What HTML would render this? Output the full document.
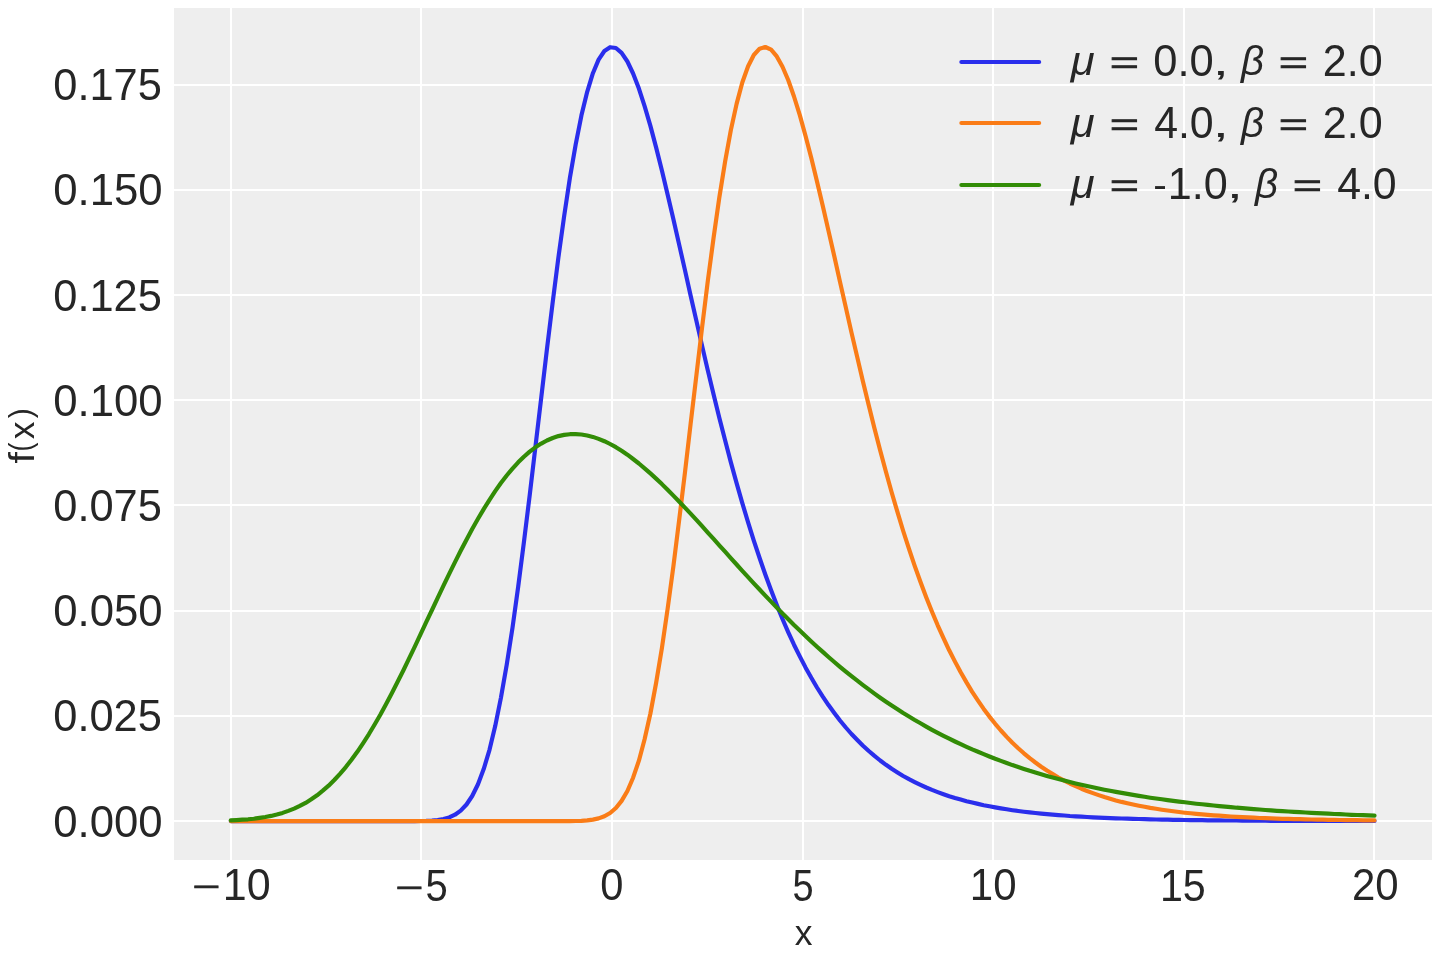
<!DOCTYPE html>
<html lang="en">
<head>
<meta charset="utf-8">
<title>Gumbel distribution pdf</title>
<style>
html,body{margin:0;padding:0;background:#ffffff;}
body{width:1440px;height:960px;overflow:hidden;font-family:"Liberation Sans",sans-serif;}
svg{display:block;font-family:"Liberation Sans",sans-serif;will-change:transform;}
.grid rect{fill:#ffffff;}
.curve{fill:none;stroke-width:4.17;stroke-linecap:round;stroke-linejoin:round;}
.lbl text{fill:#262626;}
</style>
</head>
<body>
<svg width="1440" height="960" viewBox="0 0 1440 960">
<rect x="0" y="0" width="1440" height="960" fill="#ffffff"/>
<rect x="174" y="8" width="1258" height="852" fill="#eeeeee"/>
<g class="grid">
<rect x="230" y="8" width="2" height="852"/>
<rect x="420" y="8" width="2" height="852"/>
<rect x="611" y="8" width="2" height="852"/>
<rect x="802" y="8" width="2" height="852"/>
<rect x="992" y="8" width="2" height="852"/>
<rect x="1183" y="8" width="2" height="852"/>
<rect x="1373" y="8" width="2" height="852"/>
<rect x="174" y="84" width="1258" height="2"/>
<rect x="174" y="189" width="1258" height="2"/>
<rect x="174" y="294" width="1258" height="2"/>
<rect x="174" y="399" width="1258" height="2"/>
<rect x="174" y="504" width="1258" height="2"/>
<rect x="174" y="610" width="1258" height="2"/>
<rect x="174" y="715" width="1258" height="2"/>
<rect x="174" y="820" width="1258" height="2"/>
</g>
<g class="curves">
<polyline class="curve" stroke="#2a2eec" points="230.8,821.1 236.6,821.1 242.3,821.1 248.1,821.1 253.8,821.1 259.6,821.1 265.3,821.1 271.1,821.1 276.8,821.1 282.6,821.1 288.3,821.1 294.1,821.1 299.8,821.1 305.6,821.1 311.3,821.1 317.1,821.1 322.8,821.1 328.6,821.1 334.3,821.1 340,821.1 345.8,821.1 351.5,821.1 357.3,821.1 363,821.1 368.8,821.1 374.5,821.1 380.3,821.1 386,821.1 391.8,821.1 397.5,821.1 403.3,821.1 409,821.1 414.8,821.1 420.5,821 426.2,820.9 432,820.6 437.7,820 443.5,819 449.2,817.4 455,814.7 460.7,810.6 466.5,804.5 472.2,796 478,784.3 483.7,769.1 489.5,749.8 495.2,726.1 500.9,697.8 506.7,664.9 512.5,627.7 518.2,586.6 523.9,542.2 529.7,495.3 535.4,446.9 541.2,398 546.9,349.4 552.7,302.3 558.4,257.5 564.2,215.8 569.9,177.9 575.7,144.4 581.4,115.6 587.2,91.8 592.9,73.2 598.6,59.6 604.4,51 610.1,47.2 615.9,48 621.6,52.8 627.4,61.5 633.1,73.5 638.9,88.6 644.6,106.2 650.4,125.9 656.1,147.4 661.9,170.4 667.6,194.4 673.4,219.2 679.1,244.4 684.9,269.9 690.6,295.5 696.4,320.9 702.1,345.9 707.8,370.4 713.6,394.4 719.3,417.8 725.1,440.3 730.8,462.1 736.6,483.1 742.3,503.1 748.1,522.3 753.8,540.6 759.6,558 765.3,574.5 771.1,590.2 776.8,605 782.5,619 788.3,632.3 794,644.7 799.8,656.4 805.5,667.4 811.3,677.8 817,687.5 822.8,696.6 828.5,705.1 834.3,713 840,720.5 845.8,727.5 851.5,734 857.3,740 863,745.7 868.8,751 874.5,755.9 880.2,760.5 886,764.8 891.7,768.8 897.5,772.5 903.2,776 909,779.2 914.7,782.1 920.5,784.9 926.2,787.5 932,789.9 937.7,792.1 943.5,794.2 949.2,796.2 955,798 960.7,799.6 966.5,801.2 972.2,802.6 978,803.9 983.7,805.2 989.4,806.3 995.2,807.4 1000.9,808.4 1006.7,809.3 1012.4,810.2 1018.2,811 1023.9,811.7 1029.7,812.4 1035.4,813 1041.2,813.6 1046.9,814.1 1052.7,814.6 1058.4,815.1 1064.2,815.5 1069.9,816 1075.6,816.3 1081.4,816.7 1087.1,817 1092.9,817.3 1098.6,817.6 1104.4,817.8 1110.1,818.1 1115.9,818.3 1121.6,818.5 1127.4,818.7 1133.1,818.9 1138.9,819 1144.6,819.2 1150.3,819.3 1156.1,819.5 1161.8,819.6 1167.6,819.7 1173.3,819.8 1179.1,819.9 1184.8,820 1190.6,820.1 1196.3,820.1 1202.1,820.2 1207.8,820.3 1213.6,820.3 1219.3,820.4 1225.1,820.5 1230.8,820.5 1236.6,820.5 1242.3,820.6 1248,820.6 1253.8,820.7 1259.5,820.7 1265.3,820.7 1271,820.8 1276.8,820.8 1282.5,820.8 1288.3,820.8 1294,820.9 1299.8,820.9 1305.5,820.9 1311.3,820.9 1317,820.9 1322.8,820.9 1328.5,821 1334.3,821 1340,821 1345.8,821 1351.5,821 1357.2,821 1363,821 1368.7,821 1374.5,821"/>
<polyline class="curve" stroke="#fa7c17" points="230.8,821.1 236.6,821.1 242.3,821.1 248.1,821.1 253.8,821.1 259.6,821.1 265.3,821.1 271.1,821.1 276.8,821.1 282.6,821.1 288.3,821.1 294.1,821.1 299.8,821.1 305.6,821.1 311.3,821.1 317.1,821.1 322.8,821.1 328.6,821.1 334.3,821.1 340,821.1 345.8,821.1 351.5,821.1 357.3,821.1 363,821.1 368.8,821.1 374.5,821.1 380.3,821.1 386,821.1 391.8,821.1 397.5,821.1 403.3,821.1 409,821.1 414.8,821.1 420.5,821.1 426.2,821.1 432,821.1 437.7,821.1 443.5,821.1 449.2,821.1 455,821.1 460.7,821.1 466.5,821.1 472.2,821.1 478,821.1 483.7,821.1 489.5,821.1 495.2,821.1 500.9,821.1 506.7,821.1 512.5,821.1 518.2,821.1 523.9,821.1 529.7,821.1 535.4,821.1 541.2,821.1 546.9,821.1 552.7,821.1 558.4,821.1 564.2,821.1 569.9,821.1 575.7,821 581.4,820.8 587.2,820.4 592.9,819.6 598.6,818.4 604.4,816.3 610.1,813 615.9,808 621.6,800.9 627.4,791 633.1,777.7 638.9,760.7 644.6,739.3 650.4,713.5 656.1,683 661.9,648.1 667.6,609 673.4,566.2 679.1,520.6 684.9,472.9 690.6,424.1 696.4,375.2 702.1,327.2 707.8,281.1 713.6,237.6 719.3,197.6 725.1,161.7 730.8,130.4 736.6,103.9 742.3,82.5 748.1,66.2 753.8,55 759.6,48.7 765.3,47 771.1,49.7 776.8,56.4 782.5,66.7 788.3,80.2 794,96.5 799.8,115.1 805.5,135.8 811.3,158 817,181.5 822.8,205.9 828.5,230.9 834.3,256.3 840,281.9 845.8,307.4 851.5,332.6 857.3,357.4 863,381.7 868.8,405.4 874.5,428.4 880.2,450.6 886,472 891.7,492.5 897.5,512.2 903.2,531 909,548.8 914.7,565.8 920.5,582 926.2,597.2 932,611.7 937.7,625.3 943.5,638.2 949.2,650.3 955,661.6 960.7,672.3 966.5,682.4 972.2,691.8 978,700.6 983.7,708.9 989.4,716.6 995.2,723.8 1000.9,730.5 1006.7,736.9 1012.4,742.7 1018.2,748.2 1023.9,753.3 1029.7,758.1 1035.4,762.5 1041.2,766.7 1046.9,770.5 1052.7,774.1 1058.4,777.5 1064.2,780.6 1069.9,783.5 1075.6,786.2 1081.4,788.7 1087.1,791 1092.9,793.1 1098.6,795.1 1104.4,797 1110.1,798.7 1115.9,800.4 1121.6,801.9 1127.4,803.2 1133.1,804.5 1138.9,805.7 1144.6,806.8 1150.3,807.9 1156.1,808.8 1161.8,809.7 1167.6,810.5 1173.3,811.3 1179.1,812 1184.8,812.7 1190.6,813.3 1196.3,813.9 1202.1,814.4 1207.8,814.9 1213.6,815.3 1219.3,815.7 1225.1,816.1 1230.8,816.5 1236.6,816.8 1242.3,817.1 1248,817.4 1253.8,817.7 1259.5,818 1265.3,818.2 1271,818.4 1276.8,818.6 1282.5,818.8 1288.3,818.9 1294,819.1 1299.8,819.2 1305.5,819.4 1311.3,819.5 1317,819.6 1322.8,819.7 1328.5,819.8 1334.3,819.9 1340,820 1345.8,820.1 1351.5,820.2 1357.2,820.2 1363,820.3 1368.7,820.4 1374.5,820.4"/>
<polyline class="curve" stroke="#328c06" points="230.8,820.4 236.6,820.1 242.3,819.7 248.1,819.3 253.8,818.7 259.6,817.9 265.3,817 271.1,815.9 276.8,814.5 282.6,812.9 288.3,810.9 294.1,808.6 299.8,805.9 305.6,802.9 311.3,799.3 317.1,795.3 322.8,790.7 328.6,785.7 334.3,780 340,773.8 345.8,767.1 351.5,759.7 357.3,751.8 363,743.3 368.8,734.3 374.5,724.7 380.3,714.7 386,704.2 391.8,693.3 397.5,682 403.3,670.5 409,658.6 414.8,646.6 420.5,634.4 426.2,622.2 432,610 437.7,597.8 443.5,585.7 449.2,573.8 455,562.1 460.7,550.7 466.5,539.7 472.2,529 478,518.8 483.7,509.1 489.5,499.8 495.2,491.1 500.9,483 506.7,475.5 512.5,468.6 518.2,462.3 523.9,456.7 529.7,451.6 535.4,447.3 541.2,443.6 546.9,440.5 552.7,438 558.4,436.1 564.2,434.9 569.9,434.2 575.7,434.1 581.4,434.5 587.2,435.5 592.9,436.9 598.6,438.9 604.4,441.2 610.1,444 615.9,447.2 621.6,450.8 627.4,454.7 633.1,459 638.9,463.5 644.6,468.3 650.4,473.4 656.1,478.6 661.9,484.1 667.6,489.8 673.4,495.6 679.1,501.5 684.9,507.6 690.6,513.7 696.4,519.9 702.1,526.2 707.8,532.6 713.6,538.9 719.3,545.3 725.1,551.7 730.8,558.1 736.6,564.5 742.3,570.8 748.1,577.1 753.8,583.3 759.6,589.5 765.3,595.6 771.1,601.6 776.8,607.6 782.5,613.5 788.3,619.3 794,625 799.8,630.5 805.5,636 811.3,641.5 817,646.7 822.8,651.9 828.5,657 834.3,662 840,666.8 845.8,671.6 851.5,676.2 857.3,680.7 863,685.1 868.8,689.4 874.5,693.6 880.2,697.7 886,701.7 891.7,705.5 897.5,709.3 903.2,713 909,716.5 914.7,720 920.5,723.3 926.2,726.6 932,729.8 937.7,732.8 943.5,735.8 949.2,738.7 955,741.5 960.7,744.2 966.5,746.8 972.2,749.4 978,751.8 983.7,754.2 989.4,756.5 995.2,758.8 1000.9,760.9 1006.7,763 1012.4,765.1 1018.2,767 1023.9,768.9 1029.7,770.8 1035.4,772.5 1041.2,774.2 1046.9,775.9 1052.7,777.5 1058.4,779 1064.2,780.5 1069.9,782 1075.6,783.4 1081.4,784.7 1087.1,786 1092.9,787.3 1098.6,788.5 1104.4,789.7 1110.1,790.8 1115.9,791.9 1121.6,792.9 1127.4,793.9 1133.1,794.9 1138.9,795.9 1144.6,796.8 1150.3,797.7 1156.1,798.5 1161.8,799.3 1167.6,800.1 1173.3,800.9 1179.1,801.6 1184.8,802.3 1190.6,803 1196.3,803.7 1202.1,804.3 1207.8,804.9 1213.6,805.5 1219.3,806.1 1225.1,806.6 1230.8,807.1 1236.6,807.7 1242.3,808.1 1248,808.6 1253.8,809.1 1259.5,809.5 1265.3,810 1271,810.4 1276.8,810.8 1282.5,811.1 1288.3,811.5 1294,811.9 1299.8,812.2 1305.5,812.5 1311.3,812.8 1317,813.1 1322.8,813.4 1328.5,813.7 1334.3,814 1340,814.2 1345.8,814.5 1351.5,814.8 1357.2,815 1363,815.2 1368.7,815.4 1374.5,815.6"/>
</g>
<g class="legend-handles">
<line class="curve" stroke="#2a2eec" x1="961.36" y1="62" x2="1039.14" y2="62"/>
<line class="curve" stroke="#fa7c17" x1="961.36" y1="123" x2="1039.14" y2="123"/>
<line class="curve" stroke="#328c06" x1="961.36" y1="185" x2="1039.14" y2="185"/>
</g>
<g class="lbl yticks">
<text font-size="43.66"><tspan x="53.26" y="99.56" textLength="108.58" lengthAdjust="spacingAndGlyphs">0.175</tspan></text>
<text font-size="43.66"><tspan x="53.25" y="204.56" textLength="109.39" lengthAdjust="spacingAndGlyphs">0.150</tspan></text>
<text font-size="43.66"><tspan x="53.26" y="310.56" textLength="108.58" lengthAdjust="spacingAndGlyphs">0.125</tspan></text>
<text font-size="43.66"><tspan x="53.25" y="415.56" textLength="109.39" lengthAdjust="spacingAndGlyphs">0.100</tspan></text>
<text font-size="43.66"><tspan x="53.26" y="520.56" textLength="108.58" lengthAdjust="spacingAndGlyphs">0.075</tspan></text>
<text font-size="43.66"><tspan x="53.25" y="625.56" textLength="109.39" lengthAdjust="spacingAndGlyphs">0.050</tspan></text>
<text font-size="43.66"><tspan x="53.26" y="730.56" textLength="108.58" lengthAdjust="spacingAndGlyphs">0.025</tspan></text>
<text font-size="43.66"><tspan x="53.25" y="836.56" textLength="109.39" lengthAdjust="spacingAndGlyphs">0.000</tspan></text>
</g>
<g class="lbl xticks">
<text font-size="43.66"><tspan x="192.81" stroke="#262626" stroke-width="0.7" y="896.7" font-size="30.67" textLength="27.94" lengthAdjust="spacingAndGlyphs">−</tspan><tspan x="222.78" y="899.56" textLength="47.83" lengthAdjust="spacingAndGlyphs">10</tspan></text>
<text font-size="43.5"><tspan x="395.81" stroke="#262626" stroke-width="0.7" y="897.7" font-size="30.67" textLength="27.94" lengthAdjust="spacingAndGlyphs">−</tspan><tspan x="425.4" y="900.57" textLength="22.25" lengthAdjust="spacingAndGlyphs">5</tspan></text>
<text font-size="43.66"><tspan x="600.33" y="899.56" textLength="23.17" lengthAdjust="spacingAndGlyphs">0</tspan></text>
<text font-size="43.5"><tspan x="792.48" y="900.57" textLength="21.08" lengthAdjust="spacingAndGlyphs">5</tspan></text>
<text font-size="43.66"><tspan x="969.85" y="899.56" textLength="46.72" lengthAdjust="spacingAndGlyphs">10</tspan></text>
<text font-size="43.5"><tspan x="1159.91" y="900.57" textLength="45.84" lengthAdjust="spacingAndGlyphs">15</tspan></text>
<text font-size="43.66"><tspan x="1351.9" y="899.56" textLength="46.66" lengthAdjust="spacingAndGlyphs">20</tspan></text>
</g>
<g class="lbl axis-labels">
<text font-size="35.85"><tspan x="794.65" y="945" textLength="17.71" lengthAdjust="spacingAndGlyphs">x</tspan></text>
<text transform="translate(34 463) rotate(-90)" font-size="35.85"><tspan x="-0.62" y="0" font-size="35.86" textLength="11.54" lengthAdjust="spacingAndGlyphs">f</tspan><tspan x="11.42" y="-2.74" font-size="32.09" textLength="8.8" lengthAdjust="spacingAndGlyphs">(</tspan><tspan x="23.65" y="0" textLength="17.71" lengthAdjust="spacingAndGlyphs">x</tspan><tspan x="44.85" y="-2.74" font-size="32.09" textLength="10.05" lengthAdjust="spacingAndGlyphs">)</tspan></text>
</g>
<g class="lbl legend">
<text font-size="43.66"><tspan x="1070.87" font-style="italic" y="75.2" font-size="40" textLength="23.91" lengthAdjust="spacingAndGlyphs">μ</tspan> <tspan x="1109.84" stroke="#262626" stroke-width="0.7" y="72.72" font-size="31.69" textLength="29.26" lengthAdjust="spacingAndGlyphs">=</tspan> <tspan x="1153.26" y="75.56" textLength="60.49" lengthAdjust="spacingAndGlyphs">0.0</tspan><tspan x="1212.6" y="75.12" font-size="37.5" textLength="16.67" lengthAdjust="spacingAndGlyphs">,</tspan> <tspan x="1241.01" font-style="italic" y="74.51" font-size="40.43" textLength="23.05" lengthAdjust="spacingAndGlyphs">β</tspan> <tspan x="1278.84" stroke="#262626" stroke-width="0.7" y="72.72" font-size="31.69" textLength="29.26" lengthAdjust="spacingAndGlyphs">=</tspan> <tspan x="1322.85" y="75.56" textLength="59.88" lengthAdjust="spacingAndGlyphs">2.0</tspan></text>
<text font-size="43.66"><tspan x="1070.87" font-style="italic" y="137.2" font-size="40" textLength="23.91" lengthAdjust="spacingAndGlyphs">μ</tspan> <tspan x="1109.84" stroke="#262626" stroke-width="0.7" y="134.72" font-size="31.69" textLength="29.26" lengthAdjust="spacingAndGlyphs">=</tspan> <tspan x="1154.14" y="137.56" textLength="59.58" lengthAdjust="spacingAndGlyphs">4.0</tspan><tspan x="1212.6" y="137.12" font-size="37.5" textLength="16.67" lengthAdjust="spacingAndGlyphs">,</tspan> <tspan x="1241.01" font-style="italic" y="136.51" font-size="40.43" textLength="23.05" lengthAdjust="spacingAndGlyphs">β</tspan> <tspan x="1278.84" stroke="#262626" stroke-width="0.7" y="134.72" font-size="31.69" textLength="29.26" lengthAdjust="spacingAndGlyphs">=</tspan> <tspan x="1322.85" y="137.56" textLength="59.88" lengthAdjust="spacingAndGlyphs">2.0</tspan></text>
<text font-size="43.66"><tspan x="1070.87" font-style="italic" y="198.2" font-size="40" textLength="23.91" lengthAdjust="spacingAndGlyphs">μ</tspan> <tspan x="1109.84" stroke="#262626" stroke-width="0.7" y="195.72" font-size="31.69" textLength="29.26" lengthAdjust="spacingAndGlyphs">=</tspan> <tspan x="1153.16" y="197.44" font-size="37.5" textLength="13.59" lengthAdjust="spacingAndGlyphs">-</tspan><tspan x="1167.76" y="198.56" textLength="59.97" lengthAdjust="spacingAndGlyphs">1.0</tspan><tspan x="1226.6" y="198.12" font-size="37.5" textLength="16.67" lengthAdjust="spacingAndGlyphs">,</tspan> <tspan x="1255.01" font-style="italic" y="197.51" font-size="40.43" textLength="23.05" lengthAdjust="spacingAndGlyphs">β</tspan> <tspan x="1292.84" stroke="#262626" stroke-width="0.7" y="195.72" font-size="31.69" textLength="29.26" lengthAdjust="spacingAndGlyphs">=</tspan> <tspan x="1337.14" y="198.56" textLength="59.58" lengthAdjust="spacingAndGlyphs">4.0</tspan></text>
</g>
</svg>
</body>
</html>
